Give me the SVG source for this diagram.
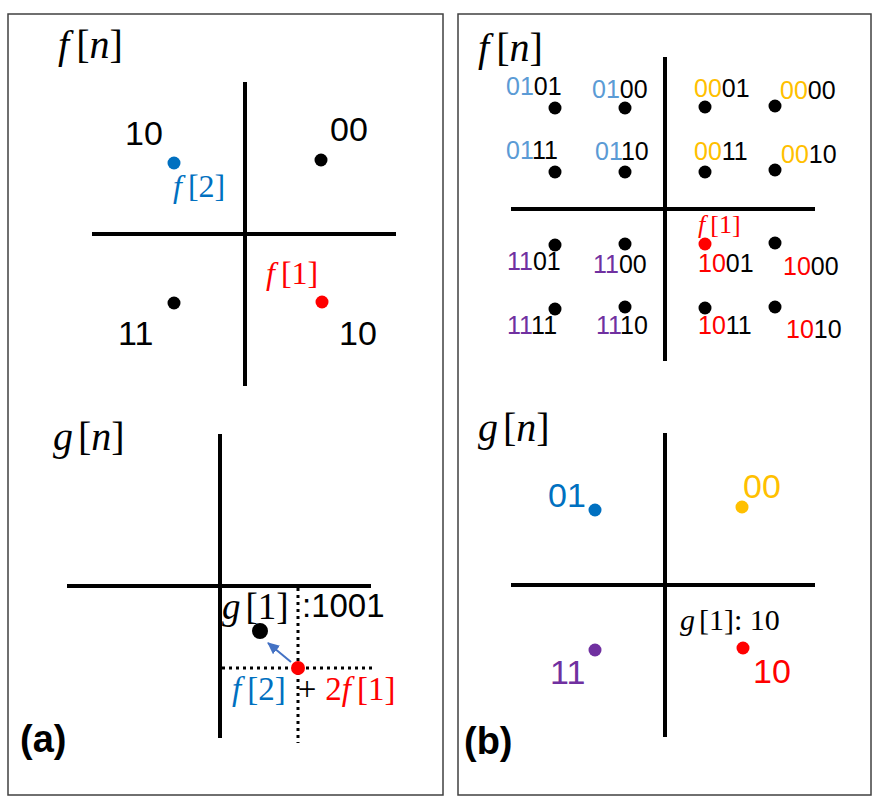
<svg xmlns="http://www.w3.org/2000/svg" width="886" height="809" viewBox="0 0 886 809">
<style>
.frame{fill:#fff;stroke:#404040;stroke-width:1.5}
.axis{stroke:#000;stroke-width:4;fill:none}
.dot{stroke:none}
.dotted{stroke:#000;stroke-width:3;stroke-dasharray:3 4;fill:none}
.num{font-family:"Liberation Sans",Arial,sans-serif;fill:#000}
.math{font-family:"Liberation Serif","Times New Roman",serif;fill:#000}
.it{font-style:italic}
.bold{font-family:"Liberation Sans",Arial,sans-serif;font-weight:bold;font-size:38px}
.lb{fill:#5B9BD5}.gd{fill:#FFC000}.pu{fill:#7030A0}.rd{fill:#FF0000}.bl{fill:#0070C0}
</style>
<defs>
<marker id="ah" markerWidth="12" markerHeight="11" refX="11" refY="5.5" orient="auto" markerUnits="userSpaceOnUse" viewBox="0 0 12 11">
<path d="M0,0 L12,5.5 L0,11 z" fill="#4472C4"/>
</marker>
</defs>
<rect width="886" height="809" fill="#fff"/>
<g id="panel-a">
<rect class="frame" x="8" y="14" width="435" height="781"/>
<g id="a-top">
<text class="math" x="58" y="58" font-size="40"><tspan class="it">f</tspan><tspan dx="7">[</tspan><tspan class="it">n</tspan>]</text>
<line class="axis" x1="245" y1="82" x2="245" y2="386"/>
<line class="axis" x1="92" y1="234" x2="396" y2="234"/>
<circle class="dot" cx="174" cy="163" r="6.5" fill="#0070C0"/>
<circle class="dot" cx="321" cy="160" r="6.5" fill="#000"/>
<circle class="dot" cx="174" cy="303" r="6.5" fill="#000"/>
<circle class="dot" cx="322" cy="302" r="6.5" fill="#FF0000"/>
<text class="num" x="125" y="145" font-size="34">10</text>
<text class="num" x="330" y="141" font-size="34">00</text>
<text class="num" x="118" y="345" font-size="34">11</text>
<text class="num" x="339" y="345" font-size="34">10</text>
<text class="math bl" x="173" y="197" font-size="32"><tspan class="it">f</tspan><tspan dx="6">[2]</tspan></text>
<text class="math rd" x="266" y="284" font-size="32"><tspan class="it">f</tspan><tspan dx="6">[1]</tspan></text>
</g>
<g id="a-bottom">
<text class="math" x="53" y="450" font-size="40"><tspan class="it">g</tspan><tspan dx="5">[</tspan><tspan class="it">n</tspan>]</text>
<line class="axis" x1="220" y1="434" x2="220" y2="738"/>
<line class="axis" x1="67" y1="586" x2="371" y2="586"/>
<line class="dotted" x1="298" y1="588" x2="298" y2="743"/>
<line class="dotted" x1="222" y1="668" x2="373" y2="668"/>
<circle class="dot" cx="260" cy="631" r="8" fill="#000"/>
<circle class="dot" cx="298" cy="668" r="7" fill="#FF0000"/>
<text class="math" x="222" y="619" font-size="37"><tspan class="it">g</tspan><tspan dx="5">[1]</tspan></text>
<text class="num" x="302" y="617" font-size="33">:1001</text>
<text class="math" x="232" y="700" font-size="33"><tspan class="it bl">f</tspan><tspan class="bl" dx="6">[2]</tspan><tspan dx="12">+</tspan><tspan class="rd" dx="9">2</tspan><tspan class="it rd">f</tspan><tspan class="rd" dx="6">[1]</tspan></text>
<text class="bold" x="20" y="752">(a)</text>
</g>
</g>
<g id="connectors">
<line x1="291" y1="662" x2="268" y2="643" stroke="#4472C4" stroke-width="2" marker-end="url(#ah)"/>
</g>
<g id="panel-b">
<rect class="frame" x="458" y="14" width="413" height="781"/>
<g id="b-top">
<text class="math" x="478" y="61" font-size="40"><tspan class="it">f</tspan><tspan dx="7">[</tspan><tspan class="it">n</tspan>]</text>
<line class="axis" x1="665" y1="57" x2="665" y2="361"/>
<line class="axis" x1="511" y1="209" x2="815" y2="209"/>
<g fill="#000">
<circle cx="555" cy="108" r="6.5"/><circle cx="625" cy="108" r="6.5"/><circle cx="705" cy="107" r="6.5"/><circle cx="775" cy="106" r="6.5"/>
<circle cx="555" cy="172" r="6.5"/><circle cx="625" cy="172" r="6.5"/><circle cx="705" cy="172" r="6.5"/><circle cx="775" cy="170" r="6.5"/>
<circle cx="555" cy="245" r="6.5"/><circle cx="625" cy="244" r="6.5"/><circle cx="775" cy="243" r="6.5"/>
<circle cx="555" cy="309" r="6.5"/><circle cx="625" cy="307" r="6.5"/><circle cx="705" cy="308" r="6.5"/><circle cx="775" cy="307" r="6.5"/>
</g>
<circle cx="705" cy="244" r="6.5" fill="#FF0000"/>
<g class="num" font-size="25">
<text x="506" y="95"><tspan class="lb">01</tspan>01</text>
<text x="592" y="98"><tspan class="lb">01</tspan>00</text>
<text x="694" y="97"><tspan class="gd">00</tspan>01</text>
<text x="780" y="99"><tspan class="gd">00</tspan>00</text>
<text x="506" y="159"><tspan class="lb">01</tspan>11</text>
<text x="595" y="160"><tspan class="lb">01</tspan>10</text>
<text x="694" y="160"><tspan class="gd">00</tspan>11</text>
<text x="781" y="163"><tspan class="gd">00</tspan>10</text>
<text x="507" y="270"><tspan class="pu">11</tspan>01</text>
<text x="593" y="273"><tspan class="pu">11</tspan>00</text>
<text x="698" y="272"><tspan class="rd">10</tspan>01</text>
<text x="783" y="275"><tspan class="rd">10</tspan>00</text>
<text x="507" y="334"><tspan class="pu">11</tspan>11</text>
<text x="596" y="334"><tspan class="pu">11</tspan>10</text>
<text x="698" y="334"><tspan class="rd">10</tspan>11</text>
<text x="786" y="338"><tspan class="rd">10</tspan>10</text>
</g>
<text class="math rd" x="698" y="233" font-size="26"><tspan class="it">f</tspan><tspan dx="5">[1]</tspan></text>
</g>
<g id="b-bottom">
<text class="math" x="478" y="441" font-size="40"><tspan class="it">g</tspan><tspan dx="5">[</tspan><tspan class="it">n</tspan>]</text>
<line class="axis" x1="665" y1="433" x2="665" y2="737"/>
<line class="axis" x1="511" y1="585" x2="815" y2="585"/>
<circle cx="595" cy="510" r="6.5" fill="#0070C0"/>
<circle cx="742" cy="507" r="6.5" fill="#FFC000"/>
<circle cx="595" cy="650" r="6.5" fill="#7030A0"/>
<circle cx="743" cy="648" r="6.5" fill="#FF0000"/>
<text class="num bl" x="548" y="507" font-size="34">01</text>
<text class="num gd" x="743" y="498" font-size="34">00</text>
<text class="num pu" x="550" y="684" font-size="34">11</text>
<text class="num rd" x="753" y="683" font-size="34">10</text>
<text class="math" x="680" y="630" font-size="30"><tspan class="it">g</tspan><tspan dx="4">[1]: 10</tspan></text>
<text class="bold" x="464" y="754">(b)</text>
</g>
</g>
</svg>
